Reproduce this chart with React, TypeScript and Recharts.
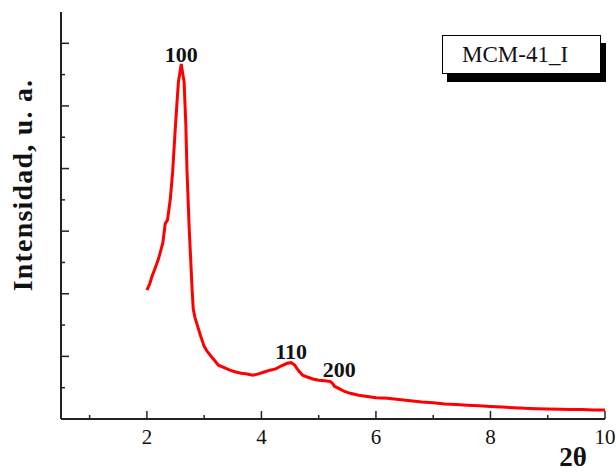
import {
  LineChart,
  Line,
  XAxis,
  YAxis,
  ReferenceDot,
  Legend,
  Label
} from "recharts";

const FONT = '"Liberation Serif", "Times New Roman", serif';
const AXIS = "#222";

// 2-theta (deg) and intensity (a.u.)
const twoTheta = [
  2.0, 2.05, 2.09, 2.14, 2.2, 2.24, 2.28, 2.32, 2.36, 2.41, 2.45, 2.5, 2.55,
  2.58, 2.6, 2.62, 2.65, 2.68, 2.7, 2.74, 2.77, 2.79, 2.81, 2.84, 2.88, 2.93,
  3.0, 3.06, 3.15, 3.25, 3.35, 3.45, 3.55, 3.65, 3.75, 3.85, 3.95, 4.05, 4.15,
  4.25, 4.35, 4.45, 4.52, 4.58, 4.65, 4.72, 4.8, 4.9, 5.0, 5.1, 5.2, 5.24,
  5.28, 5.35, 5.45, 5.55, 5.7, 5.85, 6.0, 6.2, 6.4, 6.6, 6.8, 7.0, 7.2, 7.4,
  7.6, 7.8, 8.0, 8.2, 8.4, 8.6, 8.8, 9.0, 9.2, 9.4, 9.6, 9.8, 10.0
];
const intensity = [
  2.06, 2.16, 2.28, 2.4, 2.55, 2.68, 2.82, 3.12, 3.18, 3.52, 3.95, 4.7, 5.38,
  5.55, 5.67, 5.55, 5.38, 4.7, 3.98, 3.02, 2.45, 2.06, 1.75, 1.62, 1.5, 1.35,
  1.16, 1.07, 0.97, 0.86, 0.82, 0.78, 0.75, 0.73, 0.72, 0.7, 0.72, 0.75, 0.78,
  0.8, 0.85, 0.89, 0.9, 0.86, 0.77, 0.7, 0.67, 0.64, 0.62, 0.61, 0.6, 0.57,
  0.52, 0.49, 0.44, 0.41, 0.38, 0.36, 0.34, 0.33, 0.31, 0.29, 0.27, 0.26,
  0.24, 0.23, 0.22, 0.21, 0.2, 0.19, 0.18, 0.17, 0.165, 0.16, 0.155, 0.15,
  0.15, 0.145, 0.145
];

const peakNames = ["100", "110", "200"];
const peakX = [2.6, 4.52, 5.36];
const peakY = [5.83, 1.08, 0.79];

const xMajorTicks = [2, 4, 6, 8, 10];
const xMinorTicks = [1, 3, 5, 7, 9];
const xTopTicks = [1, 2, 3, 4, 5, 6, 7, 8, 9];
const yMajorTicks = [1, 2, 3, 4, 5, 6];
const yMinorTicks = [0.5, 1.5, 2.5, 3.5, 4.5, 5.5];

const seriesName = "MCM-41_I";

const data = twoTheta.map((x, i) => ({ x, y: intensity[i] }));

const BottomTick = ({ x, y, payload }: any) => {
  const major = xMajorTicks.includes(payload.value);
  return (
    <g>
      <line x1={x} x2={x} y1={y} y2={y - (major ? 8 : 4)} stroke={AXIS} strokeWidth={1.5} />
      {major && (
        <text x={x} y={y + 25} textAnchor="middle" fontSize={21} fill="#111" fontFamily={FONT}>
          {payload.value}
        </text>
      )}
    </g>
  );
};

const TopTick = ({ x, y }: any) => (
  <line x1={x} x2={x} y1={y} y2={y + 3} stroke={AXIS} strokeWidth={1.2} />
);

const LeftTick = ({ x, y, payload }: any) => {
  const major = yMajorTicks.includes(payload.value);
  return <line x1={x} x2={x + (major ? 8 : 4)} y1={y} y2={y} stroke={AXIS} strokeWidth={1.5} />;
};

const RightTick = ({ x, y }: any) => (
  <line x1={x} x2={x - 3} y1={y} y2={y} stroke={AXIS} strokeWidth={1.2} />
);

const LegendBox = () => (
  <div
    style={{
      width: 138,
      height: 37,
      border: "1px solid #000",
      background: "#fff",
      boxShadow: "5px 8px 0 #000",
      fontFamily: FONT,
      fontSize: 23,
      lineHeight: "37px",
      paddingLeft: 19,
      boxSizing: "content-box",
      color: "#111"
    }}
  >
    {seriesName}
  </div>
);

export default function App() {
  return (
    <div style={{ position: "absolute", left: 0, top: 0, width: 616, height: 474, background: "#fff" }}>
      <LineChart
        width={616}
        height={474}
        data={data}
        margin={{ top: 12, right: 11, bottom: 0, left: 0 }}
      >
        <XAxis
          xAxisId="bottom"
          dataKey="x"
          type="number"
          domain={[0.5, 10]}
          allowDataOverflow
          ticks={[...xMinorTicks, ...xMajorTicks].sort((a, b) => a - b)}
          interval={0}
          tickSize={0}
          tickMargin={0}
          tickLine={false}
          tick={<BottomTick />}
          height={55}
          axisLine={{ stroke: AXIS, strokeWidth: 2 }}
        >
          <Label
            content={() => (
              <text x={573} y={466} textAnchor="middle" fontSize={27} fontWeight="bold" fill="#111" fontFamily={FONT}>
                2θ
              </text>
            )}
          />
        </XAxis>
        <XAxis
          xAxisId="top"
          orientation="top"
          dataKey="x"
          type="number"
          domain={[0.5, 10]}
          allowDataOverflow
          ticks={xTopTicks}
          interval={0}
          tickSize={0}
          tickMargin={0}
          tickLine={false}
          tick={<TopTick />}
          height={0}
          axisLine={{ stroke: AXIS, strokeWidth: 2 }}
        />
        <YAxis
          yAxisId="left"
          type="number"
          domain={[0, 6.5]}
          allowDataOverflow
          ticks={[...yMinorTicks, ...yMajorTicks].sort((a, b) => a - b)}
          interval={0}
          tickSize={0}
          tickMargin={0}
          tickLine={false}
          tick={<LeftTick />}
          width={61}
          axisLine={{ stroke: AXIS, strokeWidth: 2 }}
        >
          <Label
            content={() => (
              <text
                x={32}
                y={185}
                transform="rotate(-90 32 185)"
                textAnchor="middle"
                fontSize={28}
                fontWeight="bold"
                letterSpacing={1.2}
                fill="#111"
                fontFamily={FONT}
              >
                Intensidad, u. a.
              </text>
            )}
          />
        </YAxis>
        <YAxis
          yAxisId="right"
          orientation="right"
          type="number"
          domain={[0, 6.5]}
          allowDataOverflow
          ticks={[...yMinorTicks, ...yMajorTicks].sort((a, b) => a - b)}
          interval={0}
          tickSize={0}
          tickMargin={0}
          tickLine={false}
          tick={<RightTick />}
          width={0}
          axisLine={{ stroke: AXIS, strokeWidth: 2 }}
        />
        <Legend
          layout="vertical"
          align="center"
          verticalAlign="middle"
          content={<LegendBox />}
          wrapperStyle={{ left: 442, top: 35, width: "auto", height: "auto" }}
        />
        <Line
          xAxisId="bottom"
          yAxisId="left"
          dataKey="y"
          name={seriesName}
          type="linear"
          stroke="#ff0000"
          strokeWidth={3}
          dot={false}
          isAnimationActive={false}
        />
        {peakNames.map((name, i) => (
          <ReferenceDot
            key={name}
            xAxisId="bottom"
            yAxisId="left"
            x={peakX[i]}
            y={peakY[i]}
            r={0}
            fill="none"
            stroke="none"
            label={{
              value: name,
              position: "center",
              fontSize: 22,
              fontWeight: "bold",
              fill: "#111",
              fontFamily: FONT
            }}
          />
        ))}
      </LineChart>
    </div>
  );
}
